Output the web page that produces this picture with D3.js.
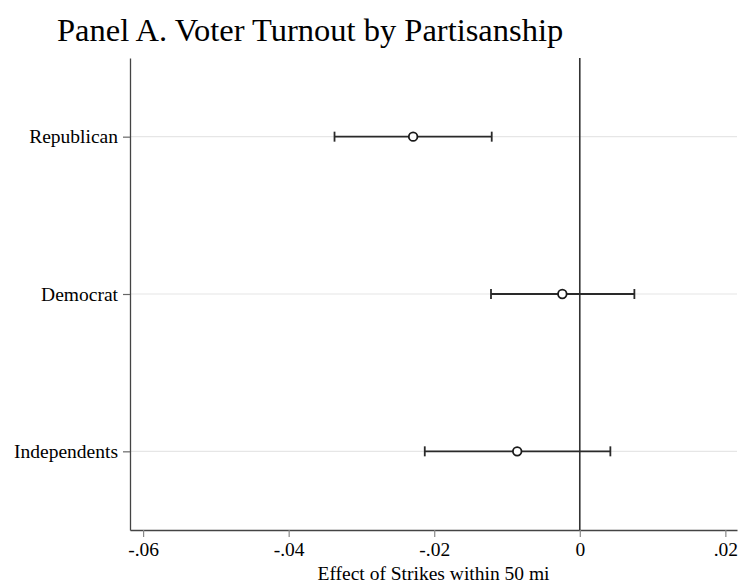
<!DOCTYPE html>
<html>
<head>
<meta charset="utf-8">
<script src="https://cdn.jsdelivr.net/npm/d3@7"></script>
<style>
  body { margin: 0; background: #fff; }
  text { font-family: "Liberation Serif", "Times New Roman", serif; fill: #000; }
</style>
</head>
<body>
<script>
const width = 740;
const height = 587;

// point estimates and 95% CIs
const categories = ['Republican', 'Democrat', 'Independents'];
const estimates = [-0.0229, -0.0024, -0.0086];
const lower = [-0.0337, -0.0122, -0.0213];
const upper = [-0.0121, 0.0075, 0.0042];
const xTicks = [-0.06, -0.04, -0.02, 0, 0.02];
const xTickLabels = ['-.06', '-.04', '-.02', '0', '.02'];

const plotLeft = 130, plotRight = 737, plotTop = 58, plotBottom = 530;

const svg = d3.select('body')
    .append('svg')
    .attr('width', width)
    .attr('height', height);

const x = d3.scaleLinear()
    .domain([-0.0618, 0.0216])
    .range([plotLeft, plotRight]);

const y = d3.scalePoint()
    .domain(categories)
    .range([plotTop, plotBottom])
    .padding(0.5);

// gridlines
svg.selectAll('.grid')
    .data(categories)
    .enter()
    .append('line')
    .attr('x1', plotLeft)
    .attr('x2', plotRight)
    .attr('y1', (d) => y(d))
    .attr('y2', (d) => y(d))
    .attr('stroke', '#e6e6e6')
    .attr('stroke-width', 1.2);

// x axis
const xAxis = svg.append('g')
    .attr('transform', `translate(0,${plotBottom})`)
    .call(d3.axisBottom(x)
        .tickValues(xTicks)
        .tickFormat((d, i) => xTickLabels[i])
        .tickSizeInner(7).tickSizeOuter(0).tickPadding(5));
xAxis.select('.domain').attr('stroke', '#444').attr('stroke-width', 1.3);
xAxis.selectAll('.tick line').attr('stroke', '#888').attr('stroke-width', 1.2);
xAxis.selectAll('.tick text')
    .style('font-family', '"Liberation Serif", serif')
    .style('font-size', '19.5px')
    .attr('fill', '#000');

// y axis
const yAxis = svg.append('g')
    .attr('transform', `translate(${plotLeft},0)`)
    .call(d3.axisLeft(y).tickSizeInner(7).tickSizeOuter(0).tickPadding(5));
yAxis.select('.domain').attr('stroke', '#444').attr('stroke-width', 1.3);
yAxis.selectAll('.tick line').attr('stroke', '#666').attr('stroke-width', 1.2);
yAxis.selectAll('.tick text')
    .style('font-family', '"Liberation Serif", serif')
    .style('font-size', '19.5px')
    .attr('fill', '#000');

// reference line at zero
svg.append('line')
    .attr('x1', x(0))
    .attr('x2', x(0))
    .attr('y1', plotTop)
    .attr('y2', plotBottom)
    .attr('stroke', '#333')
    .attr('stroke-width', 1.6);

// error bars
const bars = svg.selectAll('.ci')
    .data(categories)
    .enter()
    .append('g');

bars.append('line')
    .attr('x1', (d, i) => x(lower[i]))
    .attr('x2', (d, i) => x(upper[i]))
    .attr('y1', (d) => y(d))
    .attr('y2', (d) => y(d))
    .attr('stroke', '#2a2a2a')
    .attr('stroke-width', 1.8);

[lower, upper].forEach((arr) => {
    bars.append('line')
        .attr('x1', (d, i) => x(arr[i]))
        .attr('x2', (d, i) => x(arr[i]))
        .attr('y1', (d) => y(d) - 5)
        .attr('y2', (d) => y(d) + 5)
        .attr('stroke', '#2a2a2a')
        .attr('stroke-width', 1.8);
});

bars.append('circle')
    .attr('cx', (d, i) => x(estimates[i]))
    .attr('cy', (d) => y(d))
    .attr('r', 4.3)
    .attr('fill', '#fff')
    .attr('stroke', '#1a1a1a')
    .attr('stroke-width', 1.8);

// titles
svg.append('text')
    .attr('x', 57)
    .attr('y', 41)
    .style('font-size', '32.5px')
    .text('Panel A. Voter Turnout by Partisanship');

svg.append('text')
    .attr('x', (plotLeft + plotRight) / 2)
    .attr('y', 580)
    .attr('text-anchor', 'middle')
    .style('font-size', '19.5px')
    .text('Effect of Strikes within 50 mi');
</script>
</body>
</html>
